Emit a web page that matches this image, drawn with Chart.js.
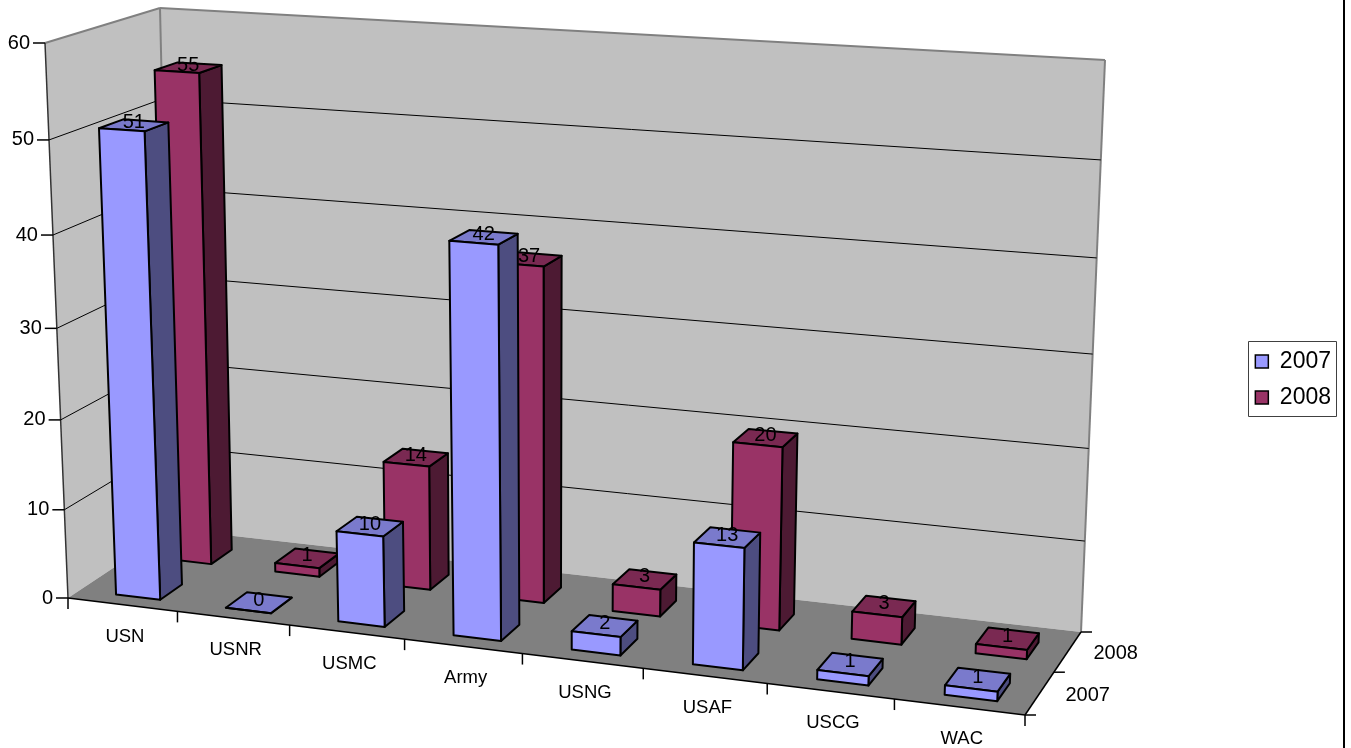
<!DOCTYPE html>
<html>
<head>
<meta charset="utf-8">
<title>Chart</title>
<script src="https://cdn.jsdelivr.net/npm/chart.js@4/dist/chart.umd.min.js"></script>
<style>
  html, body { margin: 0; padding: 0; background: #fff; }
  canvas { display: block; }
</style>
</head>
<body>
<canvas id="chart" width="1351" height="748"></canvas>
<script>
// Chart values
const categories = ['USN', 'USNR', 'USMC', 'Army', 'USNG', 'USAF', 'USCG', 'WAC'];
const seriesNames = ['2007', '2008'];
const values2007 = [51, 0, 10, 42, 2, 13, 1, 1];
const values2008 = [55, 1, 14, 37, 3, 20, 3, 1];

// Box corners on screen: front-left, front-right, back-right, back-left
const floorQuad = [[68, 598], [1025, 715], [1081, 632], [172, 529]];
const ceilingQuad = [[45, 43], [1048, 103], [1105, 60], [160, 8]];
const heightPerspective = 0.945;
const barDepth = 0.21;
const barShiftU = 0.0045;
const barShiftV = -0.035;

const barShades = {
  '2007': { front: '#9999FF', side: '#4D4D80', top: '#7A7ACC' },
  '2008': { front: '#993366', side: '#4D1A33', top: '#7A2952' }
};

// Unit square to quad mapping
function quadMap(p) {
  const [[x0, y0], [x1, y1], [x2, y2], [x3, y3]] = p;
  const dx1 = x1 - x2, dx2 = x3 - x2, sx = x0 - x1 + x2 - x3;
  const dy1 = y1 - y2, dy2 = y3 - y2, sy = y0 - y1 + y2 - y3;
  const det = dx1 * dy2 - dx2 * dy1;
  const g = (sx * dy2 - dx2 * sy) / det;
  const h = (dx1 * sy - sx * dy1) / det;
  const a = x1 - x0 + g * x1, b = x3 - x0 + h * x3;
  const d = y1 - y0 + g * y1, e = y3 - y0 + h * y3;
  return (u, v) => {
    const w = g * u + h * v + 1;
    return [(a * u + b * v + x0) / w, (d * u + e * v + y0) / w];
  };
}

const floorAt = quadMap(floorQuad);
const ceilingAt = quadMap(ceilingQuad);

// u = along categories, v = depth, t = height, all 0..1
function project(u, v, t) {
  const s = heightPerspective * t / (1 + (heightPerspective - 1) * t);
  const b = floorAt(u, v), c = ceilingAt(u, v);
  return [b[0] + (c[0] - b[0]) * s, b[1] + (c[1] - b[1]) * s];
}

function face(ctx, pts, fill, stroke, lineWidth) {
  ctx.beginPath();
  pts.forEach((p, i) => i ? ctx.lineTo(p[0], p[1]) : ctx.moveTo(p[0], p[1]));
  ctx.closePath();
  if (fill) { ctx.fillStyle = fill; ctx.fill(); }
  if (stroke) { ctx.strokeStyle = stroke; ctx.lineWidth = lineWidth; ctx.lineJoin = 'round'; ctx.stroke(); }
}

function segment(ctx, a, b, color, lineWidth) {
  ctx.beginPath();
  ctx.moveTo(a[0], a[1]);
  ctx.lineTo(b[0], b[1]);
  ctx.strokeStyle = color;
  ctx.lineWidth = lineWidth;
  ctx.stroke();
}

function label(ctx, text, x, y, size) {
  ctx.font = size + 'px "Liberation Sans", Arial, sans-serif';
  ctx.fillStyle = '#000';
  ctx.textAlign = 'center';
  ctx.textBaseline = 'middle';
  ctx.fillText(text, x, y);
}

function drawBox(chart) {
  const ctx = chart.ctx;
  const area = chart.chartArea;
  const yScale = chart.scales.y;
  const xScale = chart.scales.x;

  // Walls and floor
  face(ctx, [project(0, 1, 0), project(1, 1, 0), project(1, 1, 1), project(0, 1, 1)], '#C0C0C0');
  face(ctx, [project(0, 0, 0), project(0, 1, 0), project(0, 1, 1), project(0, 0, 1)], '#C0C0C0');
  face(ctx, [project(0, 0, 0), project(1, 0, 0), project(1, 1, 0), project(0, 1, 0)], '#808080');

  segment(ctx, project(0, 0, 1), project(0, 1, 1), '#808080', 2);
  segment(ctx, project(0, 1, 1), project(1, 1, 1), '#808080', 2);
  segment(ctx, project(0, 1, 1), project(0, 1, 0), '#808080', 2);
  segment(ctx, project(1, 1, 1), project(1, 1, 0), '#808080', 2);
  segment(ctx, project(0, 0, 1), project(0, 0, 0), '#333', 1.5);

  // Value axis: gridlines, ticks and labels
  yScale.ticks.forEach(tick => {
    const t = (area.bottom - yScale.getPixelForValue(tick.value)) / area.height;
    const front = project(0, 0, t);
    if (t > 0 && t < 1) {
      segment(ctx, front, project(0, 1, t), '#000', 1);
      segment(ctx, project(0, 1, t), project(1, 1, t), '#000', 1);
    }
    segment(ctx, [front[0] - 12, front[1]], front, '#000', 1.5);
    ctx.textAlign = 'right';
    ctx.textBaseline = 'middle';
    ctx.font = '20px "Liberation Sans", Arial, sans-serif';
    ctx.fillStyle = '#000';
    ctx.fillText(tick.label, front[0] - 15, front[1]);
  });

  // Floor edges
  segment(ctx, project(0, 0, 0), project(1, 0, 0), '#000', 1.5);
  segment(ctx, project(1, 0, 0), project(1, 1, 0), '#000', 1.5);

  // Category axis
  for (let i = 0; i <= categories.length; i++) {
    const p = project(i / categories.length, 0, 0);
    segment(ctx, p, [p[0], p[1] + 11], '#000', 1.5);
  }
  xScale.ticks.forEach((tick, i) => {
    const u = (xScale.getPixelForTick(i) - area.left) / area.width;
    const p = project(u, 0, 0);
    label(ctx, categories[tick.value], p[0] + 2.5, p[1] + 32, 18.5);
  });

  // Depth axis
  for (let i = 0; i <= seriesNames.length; i++) {
    const p = project(1, i / seriesNames.length, 0);
    segment(ctx, p, [p[0] + 11, p[1]], '#000', 1.5);
  }
  seriesNames.forEach((name, i) => {
    const p = project(1, (i + 0.5) / seriesNames.length, 0);
    label(ctx, name, p[0] + 48, p[1] + 2, 20);
  });
}

function drawBars(chart) {
  const ctx = chart.ctx;
  const area = chart.chartArea;
  const labels = [];

  // Back row first so the front row covers it
  for (let d = chart.data.datasets.length - 1; d >= 0; d--) {
    const dataset = chart.data.datasets[d];
    const shades = barShades[dataset.label];
    const vMid = (d + 0.5) / chart.data.datasets.length + barShiftV;
    const v0 = vMid - barDepth / 2, v1 = vMid + barDepth / 2;
    const bars = chart.getDatasetMeta(d).data;

    for (let i = bars.length - 1; i >= 0; i--) {
      const bar = bars[i];
      const u0 = (bar.x - bar.width / 2 - area.left) / area.width + barShiftU;
      const u1 = (bar.x + bar.width / 2 - area.left) / area.width + barShiftU;
      const t0 = (area.bottom - bar.base) / area.height;
      const t1 = (area.bottom - bar.y) / area.height;

      face(ctx, [project(u1, v0, t0), project(u1, v1, t0), project(u1, v1, t1), project(u1, v0, t1)], shades.side, '#000', 2);
      face(ctx, [project(u0, v0, t1), project(u1, v0, t1), project(u1, v1, t1), project(u0, v1, t1)], shades.top, '#000', 2);
      face(ctx, [project(u0, v0, t0), project(u1, v0, t0), project(u1, v0, t1), project(u0, v0, t1)], shades.front, '#000', 2);

      const c = project((u0 + u1) / 2, vMid, t1);
      labels.push([String(dataset.data[i]), c[0], c[1] - 2.5]);
    }
  }
  labels.forEach(l => label(ctx, l[0], l[1], l[2], 20));
}

const perspectivePlugin = {
  id: 'perspective',
  beforeDatasetsDraw(chart) {
    drawBox(chart);
    drawBars(chart);
    return false;
  },
  afterDraw(chart) {
    const ctx = chart.ctx;
    // Legend frame around the legend rows
    const rows = chart.legend.legendHitBoxes;
    const first = rows[0], last = rows[rows.length - 1];
    const left = first.left - 7, right = first.left + first.width + 5;
    const top = first.top - 9, bottom = last.top + last.height + 7;
    ctx.strokeStyle = '#404040';
    ctx.lineWidth = 1;
    ctx.strokeRect(Math.round(left) + 0.5, Math.round(top) + 0.5, Math.round(right - left), Math.round(bottom - top));
    // Frame edge on the right of the picture
    segment(ctx, [1344, 0], [1344, chart.height], '#000', 2);
  }
};

Chart.defaults.font.family = '"Liberation Sans", Arial, sans-serif';
Chart.defaults.color = '#000';

new Chart(document.getElementById('chart'), {
  type: 'bar',
  plugins: [perspectivePlugin],
  data: {
    labels: categories,
    datasets: [
      { label: seriesNames[0], data: values2007, backgroundColor: '#9999FF', borderColor: '#000', borderWidth: 1.5 },
      { label: seriesNames[1], data: values2008, backgroundColor: '#993366', borderColor: '#000', borderWidth: 1.5 }
    ]
  },
  options: {
    responsive: false,
    animation: false,
    grouped: false,
    categoryPercentage: 1,
    barPercentage: 0.405,
    layout: { padding: { right: 10, top: 11 } },
    scales: {
      x: { display: false },
      y: { display: false, min: 0, max: 60, ticks: { stepSize: 10 } }
    },
    plugins: {
      tooltip: { enabled: false },
      legend: {
        position: 'right',
        labels: { boxWidth: 13, boxHeight: 13, padding: 13, font: { size: 23 } }
      }
    }
  }
});
</script>
</body>
</html>
